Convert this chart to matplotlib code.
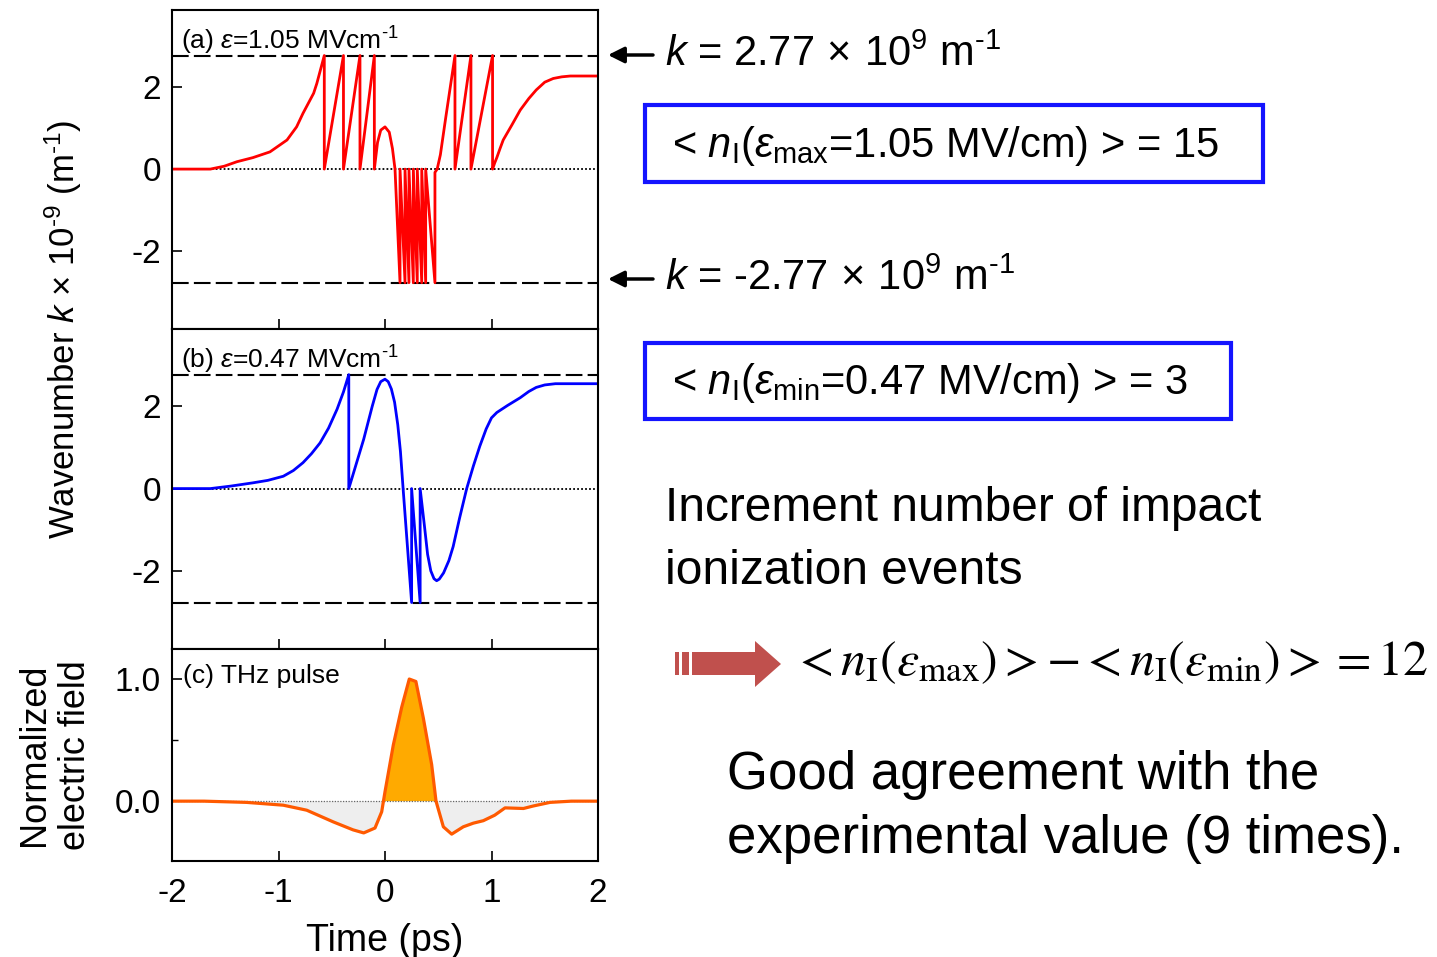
import matplotlib
matplotlib.use("Agg")
import matplotlib.pyplot as plt
from matplotlib.patches import Rectangle, Polygon
import numpy as np

plt.rcParams['font.family'] = ['Liberation Sans', 'DejaVu Sans']
plt.rcParams['mathtext.fontset'] = 'custom'
plt.rcParams['mathtext.rm'] = 'Liberation Sans'
plt.rcParams['mathtext.it'] = 'Liberation Sans:italic'
plt.rcParams['mathtext.bf'] = 'Liberation Sans:bold'
plt.rcParams['axes.unicode_minus'] = False

W, H = 1437, 957

# (a) eps = 1.05 MV/cm, wavenumber k (x1e9 m^-1); repeated times = vertical jumps
t_a = [-2.0, -1.64, -1.51, -1.39, -1.24, -1.08, -0.92, -0.83, -0.77, -0.67, -0.64, -0.57,
       -0.57, -0.39, -0.39, -0.235, -0.235, -0.10, -0.10, -0.07, -0.04, 0.0, 0.04, 0.07,
       0.094, 0.141, 0.141, 0.188, 0.188, 0.225, 0.225, 0.266, 0.266, 0.303, 0.303,
       0.345, 0.345, 0.382, 0.382, 0.469, 0.469, 0.49, 0.52, 0.57, 0.657, 0.657, 0.807,
       0.807, 1.01, 1.01, 1.03, 1.05, 1.08, 1.11, 1.19, 1.27, 1.35, 1.42, 1.50, 1.58,
       1.66, 1.74, 2.0]
k_a = [0.0, 0.0, 0.07, 0.18, 0.28, 0.42, 0.71, 1.03, 1.36, 1.85, 2.09, 2.77,
       0.0, 2.77, 0.0, 2.77, 0.0, 2.77, 0.0, 0.65, 0.95, 1.03, 0.9, 0.5,
       0.0, -2.77, 0.0, -2.77, 0.0, -2.77, 0.0, -2.77, 0.0, -2.77, 0.0,
       -2.77, 0.0, -2.77, 0.0, -2.77, -0.08, 0.0, 0.35, 1.25, 2.77, 0.0, 2.77,
       0.0, 2.77, 0.0, 0.15, 0.28, 0.5, 0.71, 1.07, 1.44, 1.72, 1.93, 2.12, 2.21,
       2.25, 2.27, 2.27]

# (b) eps = 0.47 MV/cm
t_b = [-2.0, -1.64, -1.45, -1.24, -1.1, -0.955, -0.86, -0.77, -0.69, -0.61, -0.53, -0.45,
       -0.39, -0.34, -0.34, -0.27, -0.2, -0.12, -0.075, -0.04, 0.0, 0.03, 0.06, 0.09,
       0.12, 0.145, 0.17, 0.25, 0.25, 0.33, 0.33, 0.37, 0.40, 0.43, 0.46, 0.485, 0.51,
       0.55, 0.6, 0.64, 0.70, 0.767, 0.83, 0.89, 0.95, 1.0, 1.05, 1.15, 1.27, 1.35,
       1.42, 1.5, 1.6, 2.0]
k_b = [0.0, 0.0, 0.06, 0.14, 0.2, 0.30, 0.44, 0.63, 0.85, 1.11, 1.47, 1.93,
       2.35, 2.77, 0.0, 0.6, 1.2, 2.0, 2.41, 2.6, 2.66, 2.6, 2.42, 2.1,
       1.55, 0.9, 0.0, -2.77, 0.0, -2.77, 0.0, -0.9, -1.6, -2.0, -2.19, -2.24, -2.2,
       -2.05, -1.75, -1.41, -0.72, 0.0, 0.55, 1.03, 1.45, 1.72, 1.85, 2.02, 2.21, 2.36,
       2.46, 2.52, 2.55, 2.55]

# (c) normalized THz field
t_c = [-2.0, -1.7, -1.3, -0.955, -0.735, -0.485, -0.3, -0.2, -0.094, -0.031, 0.0, 0.078,
       0.157, 0.228, 0.29, 0.36, 0.438, 0.479, 0.548, 0.626, 0.735, 0.83, 0.923,
       1.03, 1.127, 1.3, 1.39, 1.55, 1.75, 2.0]
e_c = [0.0, 0.0, -0.01, -0.033, -0.074, -0.17, -0.235, -0.26, -0.22, -0.087, 0.077, 0.46,
       0.77, 1.0, 0.98, 0.68, 0.30, 0.0, -0.21, -0.27, -0.21, -0.18, -0.16,
       -0.115, -0.055, -0.06, -0.04, -0.01, 0.0, 0.0]

k_th = 2.77
x_ticks = [-2, -1, 0, 1, 2]
k_ticks = [-2, 0, 2]
e_ticks = [0.0, 1.0]
e_labels = ["0.0", "1.0"]

fig = plt.figure(figsize=(W / 100, H / 100), dpi=100)


def box(l, t, r, b):
    return [l / W, 1 - b / H, (r - l) / W, (b - t) / H]


def fx(x):
    return x / W


def fy(y):
    return 1 - y / H


def style(ax):
    for s in ax.spines.values():
        s.set_linewidth(1.5)
    ax.tick_params(direction='in', length=7, width=1.2, labelsize=24,
                   top=False, right=False, pad=8)
    ax.tick_params(axis='x', pad=12)
    ax.tick_params(which='minor', direction='in', length=4, width=1.0)
    ax.set_xlim(-2, 2)
    ax.set_xticks(x_ticks)


ax_a = fig.add_axes(box(172, 10, 598, 329))
ax_b = fig.add_axes(box(172, 329, 598, 649))
ax_c = fig.add_axes(box(172, 649, 598, 861))

for ax, t, k, col, lab in [(ax_a, t_a, k_a, 'red', r"(a) $\varepsilon$=1.05 MVcm$^{\text{-1}}$"),
                           (ax_b, t_b, k_b, 'blue', r"(b) $\varepsilon$=0.47 MVcm$^{\text{-1}}$")]:
    style(ax)
    ax.set_ylim(-3.9, 3.88)
    ax.set_yticks(k_ticks)
    ax.set_xticklabels([])
    ax.axhline(k_th, color='k', lw=1.5, ls=(0, (8, 2.5)))
    ax.axhline(-k_th, color='k', lw=1.5, ls=(0, (8, 2.5)))
    ax.axhline(0, color='k', lw=1.3, ls=(0, (1, 1.2)))
    ax.plot(t, k, color=col, lw=2.0)
    ax.text(0.02, 0.955, lab, transform=ax.transAxes, fontsize=19, va='top', ha='left')

style(ax_c)
tc = np.array(t_c)
ec = np.array(e_c)
ax_c.set_ylim(-0.49, 1.246)
ax_c.set_yticks(e_ticks)
ax_c.set_yticklabels(e_labels)
ax_c.set_yticks([0.5], minor=True)
ax_c.fill_between(tc, ec, 0, where=ec >= 0, interpolate=True, color='#FFAA00', lw=0)
ax_c.fill_between(tc, ec, 0, where=ec <= 0, interpolate=True, color='#EEEEEE', lw=0)
ax_c.axhline(0, color='#666666', lw=0.9, ls=(0, (1, 1.2)))
ax_c.plot(tc, ec, color='#FF5A00', lw=2.3)
ax_c.text(0.025, 0.93, "(c) THz pulse", transform=ax_c.transAxes, fontsize=19,
          va='top', ha='left')
ax_c.set_xlabel("Time (ps)", fontsize=27, labelpad=10)

fig.text(fx(63), fy(329), r"Wavenumber $k$ × 10$^{\text{-9}}$ (m$^{\text{-1}}$)", rotation=90,
         ha='center', va='center', fontsize=25)
fig.text(fx(55), fy(755), "Normalized\nelectric field", rotation=90,
         ha='center', va='center', fontsize=26, linespacing=1.2)

# right side annotations
for yk, s in [(55, r"$k$ = 2.77$\,\times\,$10$^{9}$ m$^{\text{-1}}$"),
              (279, r"$k$ = -2.77$\,\times\,$10$^{9}$ m$^{\text{-1}}$")]:
    fig.text(fx(665), fy(yk), s, fontsize=30, va='center', ha='left')
    ax_a.annotate("", xy=(608, H - yk), xytext=(653, H - yk), xycoords='figure pixels',
                  textcoords='figure pixels', annotation_clip=False,
                  arrowprops=dict(arrowstyle='-|>', color='k', lw=2.5, mutation_scale=24,
                                  shrinkA=0, shrinkB=0))

for (l, t, r, b), s in [((645, 105, 1263, 182),
                         r"< $n_{\mathrm{I}}$($\varepsilon_{\mathrm{max}}$=1.05 MV/cm) > = 15"),
                        ((645, 343, 1231, 419),
                         r"< $n_{\mathrm{I}}$($\varepsilon_{\mathrm{min}}$=0.47 MV/cm) > = 3")]:
    fig.add_artist(Rectangle((fx(l), fy(b)), (r - l) / W, (b - t) / H, transform=fig.transFigure,
                             fill=False, ec='#1414FF', lw=3))
    fig.text(fx(672), fy((t + b) / 2 + 2), s, fontsize=30, va='center', ha='left')

fig.text(fx(665), fy(540), "Increment number of impact\nionization events", fontsize=34.5,
         va='center', ha='left', linespacing=1.5)

# block arrow
red = '#C0504D'
arrow_px = [(692, 652), (755, 652), (755, 641), (781, 664), (755, 687), (755, 675), (692, 675)]
fig.add_artist(Polygon([(fx(x), fy(y)) for x, y in arrow_px], closed=True,
                       transform=fig.transFigure, fc=red, ec='none'))
for l, r in [(675, 679), (682, 689)]:
    fig.add_artist(Rectangle((fx(l), fy(675)), (r - l) / W, 23 / H, transform=fig.transFigure,
                             fc=red, ec='none'))

fig.text(fx(792), fy(663),
         r"$<n_{\mathrm{I}}\left(\varepsilon_{\mathrm{max}}\right)>-<n_{\mathrm{I}}\left(\varepsilon_{\mathrm{min}}\right)>=12$",
         fontsize=36, va='center', ha='left', math_fontfamily='stix')

fig.text(fx(727), fy(807), "Good agreement with the\nexperimental value (9 times).",
         fontsize=38, va='center', ha='left', linespacing=1.35)

fig.savefig("out.png", dpi=100)
